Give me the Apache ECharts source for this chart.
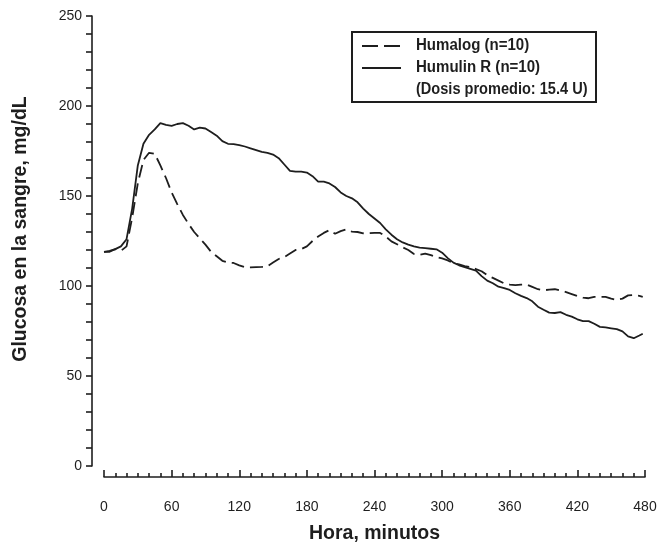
<!DOCTYPE html>
<html>
<head>
<meta charset="utf-8">
<script src="https://cdn.jsdelivr.net/npm/echarts@6/dist/echarts.min.js"></script>
<style>html,body{margin:0;padding:0;background:#fff}#c{width:660px;height:543px}</style>
</head>
<body>
<div id="c"></div>
<script>
const times = [0,5,10,15,20,25,30,35,40,45,50,55,60,65,70,75,80,85,90,95,100,105,110,115,120,125,130,135,140,145,150,155,160,165,170,175,180,185,190,195,200,205,210,215,220,225,230,235,240,245,250,255,260,265,270,275,280,285,290,295,300,305,310,315,320,325,330,335,340,345,350,355,360,365,370,375,380,385,390,395,400,405,410,415,420,425,430,435,440,445,450,455,460,465,470,475,478];
const humulinR = [119,119.5,120.5,122,126,143,167,179,184,187,190.5,189.5,189,190,190.5,189,187,188,187.5,185.5,183.5,180.5,179,178.8,178.3,177.5,176.5,175.5,174.5,174,173,171,167.5,164,163.5,163.5,163,161,158,158,157,155,152,150,148.7,146.5,143,140,137.5,135,131.5,128.5,126,124.2,123,122,121.3,121,120.7,120.4,118.5,115.5,113,111.5,110.5,109.5,108.5,105.5,103,101.5,99.6,98.8,97.8,96,94.5,93.3,91.5,88.5,86.8,85.2,85,85.5,84,83,81.5,80.5,80.5,79,77.3,77,76.5,76,74.8,72,71,72.5,73.5];
const humalog = [119,119,120.5,119.5,122,138,157,170,174,173.5,167,160,152,145.5,139.5,134.5,130,126.5,123,119,116.5,114,113,112.8,111.5,110.4,110.4,110.5,110.6,111,113,115,116,118,120,120.5,122,125,127.5,129.5,131,129,130.5,131.5,130.2,130,129.3,129.3,129.5,129.5,127.5,124.8,123.2,121.5,120,117.8,117.3,118,117.2,116,115.3,114.2,112.7,112,111,110.6,109.4,108.2,106,104.5,103,101.5,100.8,100.5,100.8,100.8,99.5,98.2,97.6,98,98.2,97.5,96.6,95.5,94.4,93.5,93.2,94,94,94,93,92.3,93,94.8,95,94.5,94];
const seriesNames = ['Humalog (n=10)', 'Humulin R (n=10)'];
const legendNote = '(Dosis promedio: 15.4 U)';
const xTitle = 'Hora, minutos';
const yTitle = 'Glucosa en la sangre, mg/dL';

const ink = '#1e1e1e';
const regular = '"Liberation Sans", Arial, Helvetica, sans-serif';

const chart = echarts.init(document.getElementById('c'), null, {renderer: 'canvas'});
chart.setOption({
  animation: false,
  backgroundColor: '#fff',
  grid: {left: 104, right: 15, top: 16, bottom: 77, containLabel: false, outerBoundsMode: 'none'},
  xAxis: {
    type: 'value', min: 0, max: 480, interval: 60, offset: 11,
    name: xTitle, nameLocation: 'middle', nameGap: 47,
    nameTextStyle: {color: ink, fontSize: 19.5, fontWeight: 'bold', fontFamily: regular},
    axisLine: {show: true, onZero: false, lineStyle: {color: ink, width: 1.6}},
    axisTick: {show: true, inside: true, length: 7, lineStyle: {color: ink, width: 1.6}},
    minorTick: {show: true, splitNumber: 6, length: 4, lineStyle: {color: ink, width: 1.6}},
    axisLabel: {color: ink, fontSize: 14, fontFamily: regular, margin: 23},
    splitLine: {show: false}, minorSplitLine: {show: false}
  },
  yAxis: {
    type: 'value', min: 0, max: 250, interval: 50, offset: 12,
    axisLine: {show: true, onZero: false, lineStyle: {color: ink, width: 1.6}},
    axisTick: {show: true, inside: false, length: 6, lineStyle: {color: ink, width: 1.6}},
    minorTick: {show: true, splitNumber: 5, length: 6, lineStyle: {color: ink, width: 1.6}},
    axisLabel: {color: ink, fontSize: 14, fontFamily: regular, margin: 10},
    splitLine: {show: false}, minorSplitLine: {show: false}
  },
  series: [
    {name: seriesNames[0], type: 'line', showSymbol: false, symbol: 'none',
     data: times.map((t, i) => [t, humalog[i]]),
     lineStyle: {color: ink, width: 1.8, type: [13, 6]}},
    {name: seriesNames[1], type: 'line', showSymbol: false, symbol: 'none',
     data: times.map((t, i) => [t, humulinR[i]]),
     lineStyle: {color: ink, width: 1.8, type: 'solid'}}
  ],
  graphic: [
    {type: 'rect', shape: {x: 352, y: 32, width: 244, height: 70},
     style: {fill: '#fff', stroke: ink, lineWidth: 2}, z: 10},
    {type: 'line', shape: {x1: 362, y1: 46, x2: 401, y2: 46},
     style: {stroke: ink, lineWidth: 1.8, lineDash: [16, 6]}, z: 11},
    {type: 'line', shape: {x1: 362, y1: 68, x2: 401, y2: 68},
     style: {stroke: ink, lineWidth: 1.8}, z: 11},
    {type: 'text', x: 416, y: 46, scaleX: 0.94, z: 11,
     style: {text: seriesNames[0], font: 'bold 16px ' + regular, fill: ink, textVerticalAlign: 'middle'}},
    {type: 'text', x: 416, y: 68, scaleX: 0.94, z: 11,
     style: {text: seriesNames[1], font: 'bold 16px ' + regular, fill: ink, textVerticalAlign: 'middle'}},
    {type: 'text', x: 416, y: 90, scaleX: 0.91, z: 11,
     style: {text: legendNote, font: 'bold 16px ' + regular, fill: ink, textVerticalAlign: 'middle'}},
    {type: 'text', x: 21, y: 229, rotation: Math.PI / 2, z: 11,
     style: {text: yTitle, font: 'bold 19.5px ' + regular, fill: ink, textAlign: 'center', textVerticalAlign: 'middle'}}
  ]
});
</script>
</body>
</html>
